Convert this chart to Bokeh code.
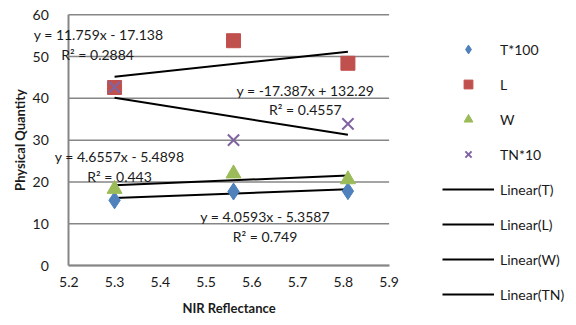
from bokeh.plotting import figure
from bokeh.models import (Legend, LegendItem, Label, FixedTicker, Range1d)
from bokeh.embed import file_html
from bokeh.resources import INLINE

# ---- data ----
nir = [5.30, 5.56, 5.81]
t100 = [15.6, 17.7, 17.8]
l_vals = [42.6, 53.8, 48.4]
w_vals = [18.3, 22.0, 20.6]
tn10 = [42.7, 30.0, 33.9]

# trendline coefficients (slope, intercept) and R² as printed
slopes = [4.0593, 11.759, 4.6557, -17.387]
intercepts = [-5.3587, -17.138, -5.4898, 132.29]
eq_texts = ["y = 4.0593x - 5.3587", "y = 11.759x - 17.138",
            "y = 4.6557x - 5.4898", "y = -17.387x + 132.29"]
r2_texts = ["R² = 0.749", "R² = 0.2884", "R² = 0.443", "R² = 0.4557"]

x_ticks = [5.2, 5.3, 5.4, 5.5, 5.6, 5.7, 5.8, 5.9]
y_ticks = [0, 10, 20, 30, 40, 50, 60]

FONT = "Lato"
GRID = "#868686"
TXT = "#1a1a1a"

W, H = 576, 325
# plot-area placement in pixels (the frame covers the whole canvas; axes are pinned)
PX0, PX1 = 68.3, 388.6   # x = 5.2 .. 5.9
PY0, PY1 = 265.0, 14.3   # y = 0 .. 60 (pixels from top)
xa, xb = x_ticks[0], x_ticks[-1]
ya, yb = y_ticks[0], y_ticks[-1]
sx = (PX1 - PX0) / (xb - xa)
sy = (PY0 - PY1) / (yb - ya)
x_range = Range1d(xa - PX0 / sx, xa + (W - PX0) / sx)
y_range = Range1d(ya - (H - PY0) / sy, ya + PY0 / sy)

p = figure(width=W, height=H, output_backend="svg", toolbar_location=None,
           x_range=x_range, y_range=y_range,
           min_border=0, min_border_left=0, min_border_right=0,
           min_border_top=0, min_border_bottom=0)
p.outline_line_color = None
p.background_fill_color = "white"
p.xgrid.grid_line_color = None
p.ygrid.grid_line_color = None

# horizontal gridlines only across the plot area
p.segment(x0=[xa] * len(y_ticks), x1=[xb] * len(y_ticks), y0=y_ticks, y1=y_ticks,
          line_color=GRID, line_width=1.5)

for ax in (p.xaxis[0], p.yaxis[0]):
    ax.axis_line_color = GRID
    ax.axis_line_width = 2
    ax.major_tick_line_color = None
    ax.minor_tick_line_color = None
    ax.major_label_text_font = FONT
    ax.major_label_text_font_size = "14px"
    ax.major_label_text_color = TXT
    ax.axis_label_text_font = FONT
    ax.axis_label_text_font_size = "13px"
    ax.axis_label_text_font_style = "bold"
    ax.axis_label_text_color = TXT

p.xaxis.ticker = FixedTicker(ticks=x_ticks)
p.yaxis.ticker = FixedTicker(ticks=y_ticks)
p.xaxis.fixed_location = ya
p.yaxis.fixed_location = xa
p.xaxis.bounds = (xa, xb)
p.yaxis.bounds = (ya, yb)
p.xaxis.axis_label = "NIR Reflectance"
p.yaxis.axis_label = "Physical Quantity"
p.xaxis.major_label_standoff = 5
p.yaxis.major_label_standoff = 14
p.xaxis.axis_label_standoff = 10
p.yaxis.axis_label_standoff = 1

# trend lines
xs_line = [min(nir), max(nir)]
trend_renderers = []
for m, b in zip(slopes, intercepts):
    r = p.line(xs_line, [m * xx + b for xx in xs_line], line_color="black", line_width=2)
    trend_renderers.append(r)

r_t = p.scatter(nir, t100, marker="diamond", size=17, fill_color="#4F81BD", line_color="#4F81BD")
r_l = p.scatter(nir, l_vals, marker="square", size=14, fill_color="#C0504D", line_color="#C0504D")
r_w = p.scatter(nir, w_vals, marker="triangle", size=15, fill_color="#9BBB59", line_color="#9BBB59")
r_tn = p.scatter(nir, tn10, marker="x", size=16, line_color="#8064A2", line_width=2)

# equation labels (text centres)
eq_pos = [(5.629, 11.7), (5.265, 55.3), (5.311, 26.1), (5.717, 41.9)]
r2_pos = [(5.629, 6.9), (5.263, 50.5), (5.311, 21.3), (5.717, 37.4)]
for txt, (xx, yy) in zip(eq_texts, eq_pos):
    p.add_layout(Label(x=xx, y=yy, text=txt, text_align="center", text_baseline="middle",
                       text_font=FONT, text_font_size="14px", text_color=TXT))
for txt, (xx, yy) in zip(r2_texts, r2_pos):
    p.add_layout(Label(x=xx, y=yy, text=txt, text_align="center", text_baseline="middle",
                       text_font=FONT, text_font_size="14px", text_color=TXT))

items = [
    LegendItem(label="T*100", renderers=[r_t]),
    LegendItem(label="L", renderers=[r_l]),
    LegendItem(label="W", renderers=[r_w]),
    LegendItem(label="TN*10", renderers=[r_tn]),
    LegendItem(label="Linear(T)", renderers=[trend_renderers[0]]),
    LegendItem(label="Linear(L)", renderers=[trend_renderers[1]]),
    LegendItem(label="Linear(W)", renderers=[trend_renderers[2]]),
    LegendItem(label="Linear(TN)", renderers=[trend_renderers[3]]),
]
legend = Legend(items=items, location=(442, 20), glyph_width=52, glyph_height=22,
                spacing=13, label_standoff=6, padding=0, margin=0,
                border_line_color=None, background_fill_alpha=0,
                label_text_font=FONT, label_text_font_size="14px",
                label_text_color=TXT)
p.add_layout(legend, "center")

open("out.html", "w").write(file_html(p, INLINE))
